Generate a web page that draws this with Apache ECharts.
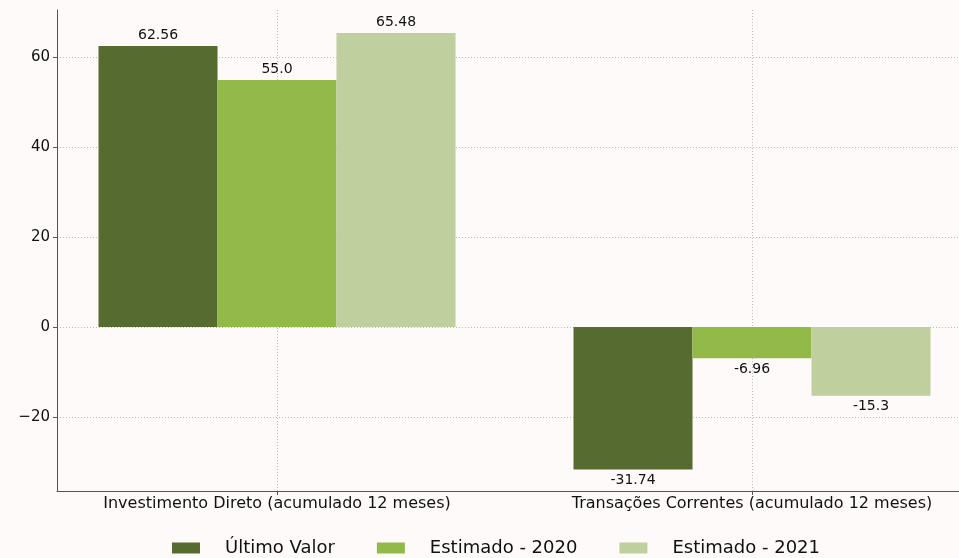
<!DOCTYPE html>
<html>
<head>
<meta charset="utf-8">
<script src="https://cdn.jsdelivr.net/npm/echarts@6/dist/echarts.min.js"></script>
<style>
html,body{margin:0;padding:0;background:#FFFAFA;}
#chart{width:959px;height:558px;}
</style>
</head>
<body>
<div id="chart"></div>
<script>
const categories = ['Investimento Direto (acumulado 12 meses)', 'Transações Correntes (acumulado 12 meses)'];
const seriesNames = ['Último Valor', 'Estimado - 2020', 'Estimado - 2021'];
const ultimoValor = [62.56, -31.74];
const estimado2020 = [55.0, -6.96];
const estimado2021 = [65.48, -15.3];
const yTicks = [-20, 0, 20, 40, 60];
const colors = ['#556B2F', '#93B948', '#BFCF9E'];

const font = 'DejaVu Sans';
const fmtVal = v => Number.isInteger(v) ? v.toFixed(1) : String(v);
const allSeries = [ultimoValor, estimado2020, estimado2021];

const chart = echarts.init(document.getElementById('chart'), null, {renderer: 'canvas'});
chart.setOption({
  backgroundColor: '#FFFAFA',
  animation: false,
  color: colors,
  grid: {left: 57, right: 0, top: 10, bottom: 67, containLabel: false},
  legend: {
    top: 539,
    left: 172,
    padding: 0,
    itemWidth: 28,
    itemHeight: 11,
    itemGap: 42,
    icon: 'rect',
    textStyle: {fontFamily: font, fontSize: 18, color: '#111', padding: [0, 0, 0, 20]},
    data: seriesNames
  },
  xAxis: {
    type: 'value',
    min: -0.4632,
    max: 1.4358,
    axisLine: {show: true, onZero: false, lineStyle: {color: '#555', width: 1}},
    axisTick: {show: true, customValues: [0, 1], length: 4, lineStyle: {color: '#555'}},
    axisLabel: {
      customValues: [0, 1],
      formatter: v => categories[Math.round(v)],
      fontFamily: font, fontSize: 16, color: '#111', margin: 5
    },
    splitLine: {show: true, lineStyle: {color: '#bbb', type: [1, 2], width: 1}}
  },
  yAxis: {
    type: 'value',
    min: -36.5,
    max: 70.6,
    axisLine: {show: true, onZero: false, lineStyle: {color: '#555', width: 1}},
    axisTick: {show: true, customValues: yTicks, length: 4, lineStyle: {color: '#555'}},
    axisLabel: {
      customValues: yTicks,
      formatter: v => String(v).replace('-', '\u2212'),
      fontFamily: font, fontSize: 15, color: '#111', margin: 7
    },
    splitLine: {show: true, lineStyle: {color: '#bbb', type: [1, 2], width: 1}}
  },
  series: allSeries.map((arr, i) => ({
    name: seriesNames[i],
    type: 'bar',
    barWidth: 119,
    barGap: '0%',
    data: arr.map((v, j) => ({
      value: [j, v],
      label: {position: v >= 0 ? 'top' : 'bottom'}
    })),
    label: {
      show: true,
      distance: 4,
      formatter: p => fmtVal(p.value[1]),
      fontFamily: font, fontSize: 14, color: '#111'
    },
    itemStyle: {color: colors[i]}
  }))
});
</script>
</body>
</html>
